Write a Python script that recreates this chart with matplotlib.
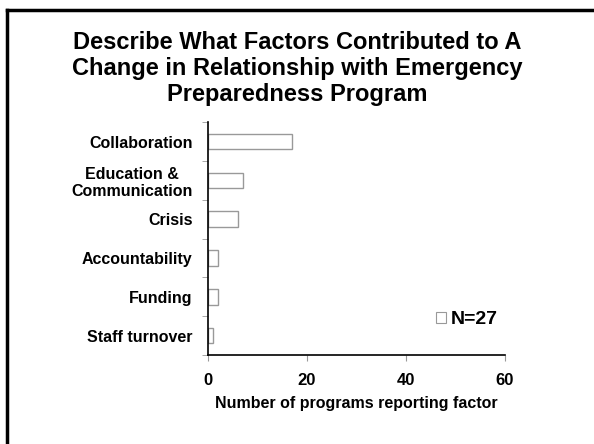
import numpy as np
import matplotlib
matplotlib.use('Agg')
import matplotlib.pyplot as plt
from matplotlib.lines import Line2D
from matplotlib.patches import Patch

plt.rcParams['font.family'] = ['Liberation Sans', 'DejaVu Sans']
plt.rcParams['font.weight'] = 'bold'

factors = ['Collaboration', 'Education &\nCommunication', 'Crisis',
           'Accountability', 'Funding', 'Staff turnover']
counts = [17, 7, 6, 2, 2, 1]
xticks = [0, 20, 40, 60]
legend_label = 'N=27'

title = ('Describe What Factors Contributed to A\n'
         'Change in Relationship with Emergency\n'
         'Preparedness Program')

fig = plt.figure(figsize=(5.94, 4.44), dpi=100)
ax = fig.add_axes([0.350, 0.2005, 0.500, 0.5245])

y = np.arange(len(factors))
ax.barh(y, counts, height=0.4, color='white', edgecolor='#999999', linewidth=1)
ax.set_ylim(len(factors) - 0.5, -0.5)
ax.set_xlim(0, 60)

ax.set_yticks(y)
ax.set_yticklabels(factors, fontsize=11.5, fontweight='bold', multialignment='center')
ax.set_yticks(np.arange(len(factors) + 1) - 0.5, minor=True)
ax.tick_params(axis='y', which='major', length=0, pad=11)
ax.tick_params(axis='y', which='minor', length=4, color='#999999', direction='out')

ax.set_xticks(xticks)
ax.set_xticklabels([str(t) for t in xticks], fontsize=12, fontweight='bold')
ax.tick_params(axis='x', length=4, color='#999999', direction='out', pad=9)
ax.set_xlabel('Number of programs reporting factor', fontsize=11.5, fontweight='bold', labelpad=6)

for s in ['top', 'right']:
    ax.spines[s].set_visible(False)
for s in ['left', 'bottom']:
    ax.spines[s].set_linewidth(1.2)

handle = Patch(facecolor='white', edgecolor='#999999', linewidth=0.8)
ax.legend([handle], [legend_label], loc='center', bbox_to_anchor=(0.872, 0.152),
          frameon=False, prop={'size': 14, 'weight': 'bold'},
          handlelength=0.5, handleheight=0.5, handletextpad=0.25,
          borderpad=0, borderaxespad=0)

fig.text(0.5, 0.845, title, ha='center', va='center', fontsize=17,
         fontweight='bold', linespacing=1.17)

# frame around the slide, only left and top visible
fig.add_artist(Line2D([7 / 594, 7 / 594], [0, 1 - 10 / 444], color='black', lw=2.5,
                      transform=fig.transFigure))
fig.add_artist(Line2D([7 / 594, 1], [1 - 10 / 444, 1 - 10 / 444], color='black', lw=2.5,
                      transform=fig.transFigure))

fig.savefig('out.png', dpi=100)
